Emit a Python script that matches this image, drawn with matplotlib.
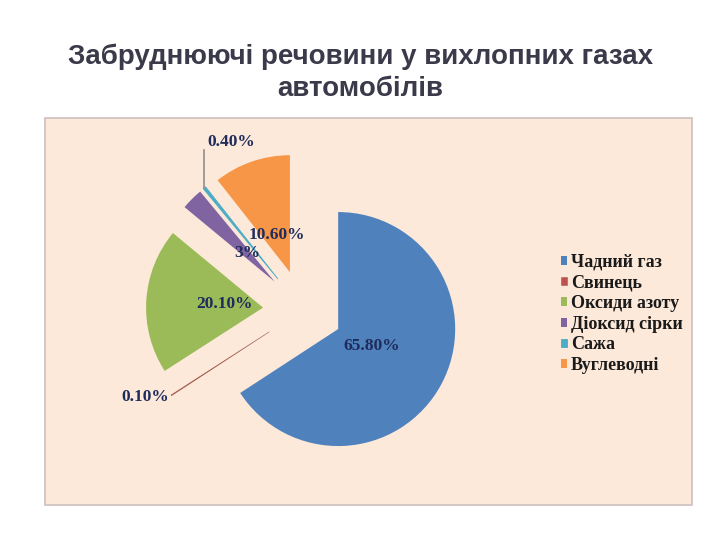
import numpy as np
import matplotlib
matplotlib.use('Agg')
import matplotlib.pyplot as plt
from matplotlib.patches import Rectangle

# дані діаграми
categories = ['Чадний газ', 'Свинець', 'Оксиди азоту', 'Діоксид сірки', 'Сажа', 'Вуглеводні']
shares = [65.8, 0.1, 20.1, 3.0, 0.4, 10.6]
pct_labels = ['65.80%', '0.10%', '20.10%', '3%', '0.40%', '10.60%']
colors = ['#4F81BD', '#C0504D', '#9BBB59', '#8064A2', '#4BACC6', '#F79646']

title = 'Забруднюючі речовини у вихлопних газах\nавтомобілів'

fig = plt.figure(figsize=(7.2, 5.4), dpi=100)
ax = fig.add_axes([0, 0, 1, 1])

fig.text(0.5, 1 - 73 / 540, title, ha='center', va='center', fontsize=20,
         fontweight='bold', color='#3B3A4A', linespacing=1.3,
         family=['Liberation Sans', 'DejaVu Sans'])

# фон області діаграми
ax.add_patch(Rectangle((45, 35), 647, 387, facecolor='#FCE9DA',
                       edgecolor='#CDBFBF', lw=1.2, zorder=0))

R = 117
wedges, _ = ax.pie(shares, colors=colors, startangle=90, counterclock=False,
                   radius=R, center=(303, 230), explode=[40] * len(shares),
                   wedgeprops=dict(linewidth=0))
# тонкі сектори - обводка, щоб було видно
wedges[1].set_edgecolor('#A0604F')
wedges[1].set_linewidth(0.4)
wedges[4].set_edgecolor(colors[4])
wedges[4].set_linewidth(0.6)

lab_font = dict(family='Liberation Serif', fontweight='bold', fontsize=12.5,
                color='#1F2B5B')
for i, w in enumerate(wedges):
    th = np.deg2rad((w.theta1 + w.theta2) / 2)
    cx, cy = w.center
    ox, oy = cx + R * np.cos(th), cy + R * np.sin(th)
    if i == 1:
        ax.text(ox - 2, oy - 2, pct_labels[i], ha='right', va='center', **lab_font)
    elif i == 4:
        ax.plot([ox, ox], [oy, 390], color='#8E8E8E', lw=1.2)
        ax.text(ox + 3, 398, pct_labels[i], ha='left', va='center', **lab_font)
    else:
        ax.text(cx + 0.33 * R * np.cos(th), cy + 0.33 * R * np.sin(th) + 1,
                pct_labels[i], ha='center', va='center', **lab_font)

leg = ax.legend(wedges, categories, loc='upper left',
                bbox_to_anchor=(561 / 720, 1 - 254 / 540), frameon=False,
                prop=dict(family='Liberation Serif', weight='bold', size=13),
                handlelength=0.35, handleheight=0.35, handletextpad=0.2,
                labelspacing=0.2, borderpad=0, borderaxespad=0)
for t in leg.get_texts():
    t.set_color('#1A1A1A')

ax.set_xlim(0, 720)
ax.set_ylim(0, 540)
ax.axis('off')

fig.savefig('out.png', dpi=100)
